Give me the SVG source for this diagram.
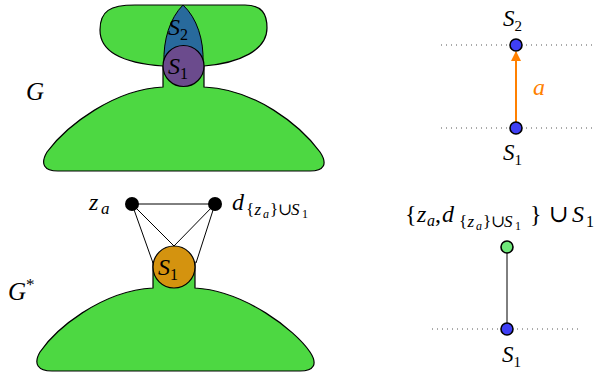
<svg xmlns="http://www.w3.org/2000/svg" width="607" height="372" viewBox="0 0 607 372">
<style>
text{font-family:"Liberation Serif","DejaVu Serif",serif;fill:#000}
.i{font-style:italic}
.blob{fill:#4dd842;stroke:#000;stroke-width:1.2}
.dot{stroke:#555;stroke-width:1;stroke-dasharray:1 4;fill:none}
.bn{fill:#3f3ff5;stroke:#000;stroke-width:1.6}
.edge{stroke:#000;stroke-width:1;fill:none}
</style>
<defs>
<marker id="ah" viewBox="0 0 10 10" refX="9" refY="5" markerWidth="5" markerHeight="5" orient="auto"><path d="M0,0 L10,5 L0,10 Z" fill="#ff8000"/></marker>
</defs>
<g id="G">
<path class="blob" d="M163,87 L163,66 C120,63 100,50 100,30 C100,11 110,5 135,5 L245,5 C262,5 267,14 267,28 C267,50 240,63 204,66 L204,87 C255,89 300,125 320,152 C328,164 324,171 310,171 L58,171 C44,171 40,164 47,152 C67,125 115,89 163,87 Z"/>
<path d="M183,5 C170,18 163,40 164,63 L203,63 C204,40 197,18 183,5 Z" fill="#286a9c" stroke="#000" stroke-width="1"/>
<circle cx="183.5" cy="66" r="20.5" fill="#6b4b8d" stroke="#000" stroke-width="1.2"/>
<text x="168" y="35" font-size="24"><tspan class="i">S</tspan><tspan font-size="16" dy="5">2</tspan></text>
<text x="168" y="74" font-size="24"><tspan class="i">S</tspan><tspan font-size="16" dy="5">1</tspan></text>
<text x="26" y="100" font-size="25" class="i">G</text>
</g>
<g id="Gstar">
<path class="blob" d="M153,262 L153,288 C100,291 55,330 40,352 C33,364 38,371 52,371 L300,371 C314,371 318,364 310,352 C295,330 245,291 195,288 L195,262 Z"/>
<g id="connectors-left">
<line class="edge" x1="132" y1="204" x2="215" y2="204"/>
<line class="edge" x1="132" y1="204" x2="153" y2="263"/>
<line class="edge" x1="132" y1="204" x2="174" y2="246"/>
<line class="edge" x1="215" y1="204" x2="174" y2="246"/>
<line class="edge" x1="215" y1="204" x2="196" y2="263"/>
</g>
<circle cx="174" cy="267" r="21" fill="#d4930f" stroke="#000" stroke-width="1.2"/>
<text x="158" y="275" font-size="24"><tspan class="i">S</tspan><tspan font-size="16" dy="5">1</tspan></text>
<circle id="za" cx="132" cy="204" r="7" fill="#000"/>
<circle id="d" cx="215" cy="204" r="7" fill="#000"/>
<text y="210" font-size="24"><tspan class="i" x="89">z</tspan><tspan class="i" font-size="17" x="101" y="214">a</tspan></text>
<text y="210" font-size="24"><tspan class="i" x="232">d</tspan><tspan font-size="17" x="246" y="215">{</tspan><tspan class="i" font-size="17" x="254.5">z</tspan><tspan class="i" font-size="12" x="263" y="218">a</tspan><tspan font-size="17" x="270" y="215">}</tspan><tspan font-size="17" x="278">∪</tspan><tspan class="i" font-size="17" x="291">S</tspan><tspan font-size="12" x="302" y="218">1</tspan></text>
<text x="8" y="300" font-size="25"><tspan class="i">G</tspan><tspan font-size="17" dy="-10">*</tspan></text>
</g>
<g id="right-top">
<line class="dot" x1="441" y1="45" x2="592" y2="45"/>
<line class="dot" x1="441" y1="128" x2="592" y2="128"/>
<g id="connectors-right">
<line x1="516" y1="122" x2="516" y2="52" stroke="#ff8000" stroke-width="2" marker-end="url(#ah)"/>
<line class="edge" x1="507" y1="247" x2="507" y2="329"/>
</g>
<circle class="bn" cx="516" cy="45" r="6"/>
<circle class="bn" cx="516" cy="128" r="6"/>
<text x="503" y="26" font-size="23"><tspan class="i">S</tspan><tspan font-size="15" dy="5">2</tspan></text>
<text x="503" y="160" font-size="23"><tspan class="i">S</tspan><tspan font-size="15" dy="5">1</tspan></text>
<text x="533" y="95" font-size="24" class="i" style="fill:#ff8000">a</text>
</g>
<g id="right-bottom">
<line class="dot" x1="432" y1="329" x2="580" y2="329"/>
<circle cx="507" cy="247" r="6" fill="#6fe87a" stroke="#000" stroke-width="1.6"/>
<circle class="bn" cx="507" cy="329" r="6"/>
<text y="222" font-size="24"><tspan x="405">{</tspan><tspan class="i" x="417">z</tspan><tspan class="i" font-size="16" x="427" y="226">a</tspan><tspan x="435" y="222">,</tspan><tspan class="i" x="442">d</tspan><tspan font-size="17" x="459" y="227">{</tspan><tspan class="i" font-size="17" x="467.5">z</tspan><tspan class="i" font-size="12" x="476" y="230">a</tspan><tspan font-size="17" x="483" y="227">}</tspan><tspan font-size="17" x="491">∪</tspan><tspan class="i" font-size="17" x="504">S</tspan><tspan font-size="12" x="515" y="230">1</tspan><tspan x="530" y="222">}</tspan><tspan x="549">∪</tspan><tspan class="i" x="572">S</tspan><tspan font-size="16" x="586" y="227">1</tspan></text>
<text x="502" y="362" font-size="23"><tspan class="i">S</tspan><tspan font-size="15" dy="5">1</tspan></text>
</g>
</svg>
